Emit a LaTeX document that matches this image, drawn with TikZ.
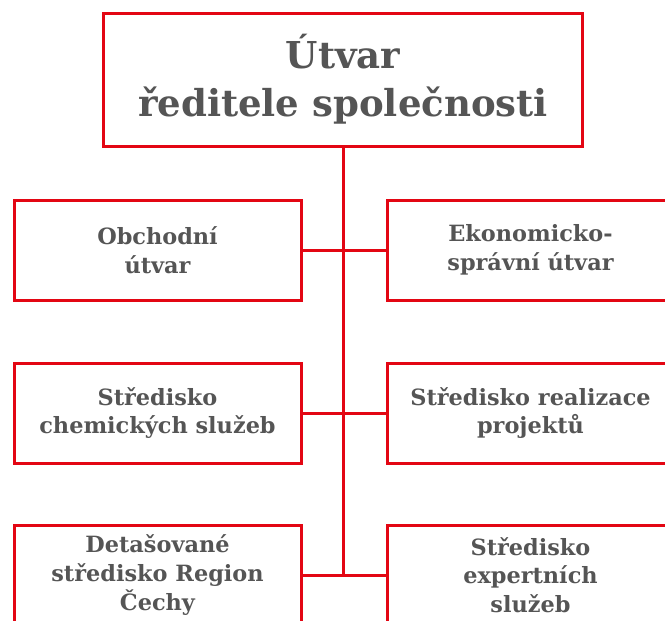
\documentclass[tikz,border=0pt]{standalone}
\usepackage{fontspec}
\setmainfont{DejaVu Serif}
\usetikzlibrary{positioning}
\definecolor{orgred}{RGB}{227,6,19}
\definecolor{orggray}{RGB}{85,85,85}
\tikzset{
  unitbox/.style={draw=orgred, line width=2.25pt, rectangle, align=center,
    text=orggray, font=\bfseries\fontsize{16.8}{21.5}\selectfont,
    minimum width=287*0.75pt, minimum height=100*0.75pt, inner sep=0pt},
  headbox/.style={unitbox, font=\bfseries\fontsize{27.8}{36}\selectfont,
    minimum width=479*0.75pt, minimum height=133*0.75pt},
  link/.style={draw=orgred, line width=2.25pt}
}
\begin{document}
\begin{tikzpicture}[x=0.75pt,y=0.75pt,yscale=-1]
\useasboundingbox (0,0) rectangle (665,621);
\clip (0,0) rectangle (665,621);

% head of the company
\node [headbox] (head) at (343,79.5) {Útvar\\ředitele společnosti};

% left column
\node [unitbox] (obchod) at (157.5,250) {Obchodní\\útvar};
\node [unitbox] (chem) at (157.5,413) {Středisko\\chemických služeb};
\node [unitbox] (cechy) at (157.5,575) {Detašované\\středisko Region\\Čechy};

% right column
\node [unitbox] (ekon) at (530.5,250) {Ekonomicko-\\správní útvar};
\node [unitbox] (real) at (530.5,413) {Středisko realizace\\projektů};
\node [unitbox] (expert) at (530.5,575) {Středisko\\expertních\\služeb};

% connectors
\coordinate (spine) at (343,575);
\draw [link] (head.south) -- (spine);
\draw [link] (obchod.east) -- (ekon.west);
\draw [link] (chem.east) -- (real.west);
\draw [link] (cechy.east) -- (expert.west);

\end{tikzpicture}
\end{document}
